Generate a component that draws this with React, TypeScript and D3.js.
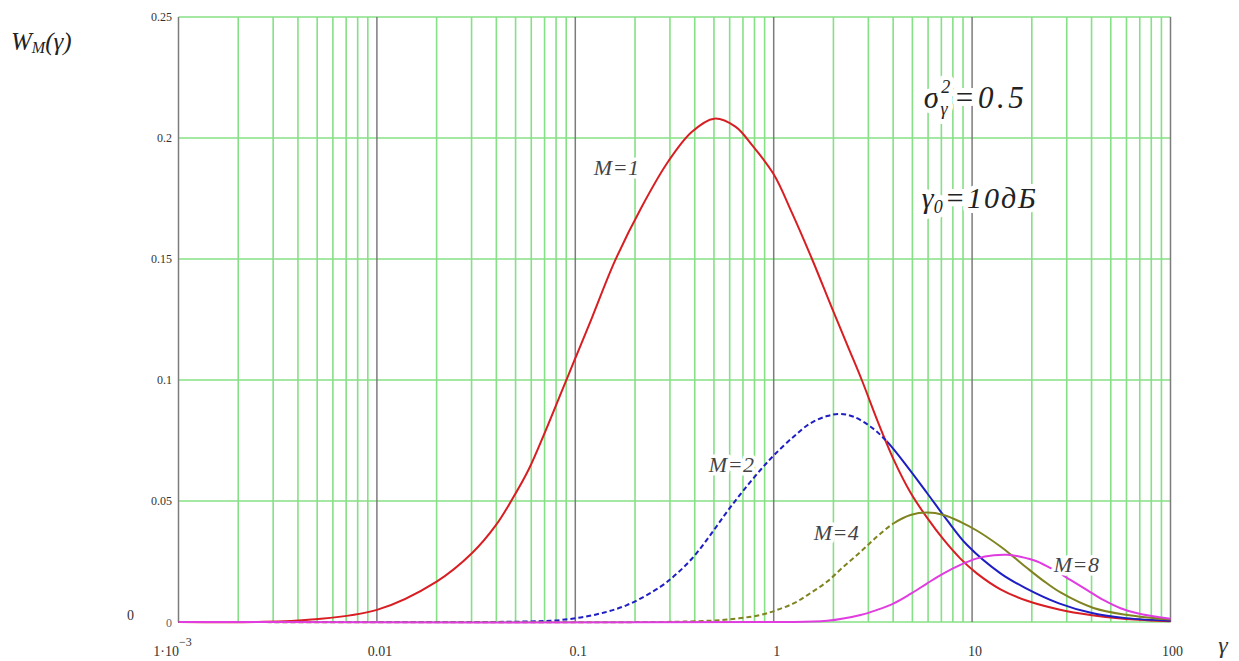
import React, { useEffect, useRef } from "react";
import * as d3 from "d3";

// values (gamma on a log axis, W_M(gamma))
const gammaM1 = [0.001, 0.00251, 0.00468, 0.01, 0.02, 0.0302, 0.0398, 0.0479, 0.0582, 0.0708, 0.0851, 0.1, 0.121, 0.158, 0.216, 0.295, 0.386, 0.501, 0.641, 0.776, 1, 1.23, 1.56, 1.96, 2.39, 2.78, 3.32, 4.03, 4.89, 5.94, 7.19, 8.73, 10.6, 13.9, 18.6, 27.4, 40.2, 59.7, 100];
const wM1 = [0, 0, 0.001, 0.005, 0.0167, 0.0285, 0.04, 0.0505, 0.063, 0.079, 0.095, 0.109, 0.1255, 0.149, 0.1715, 0.1905, 0.2025, 0.208, 0.2047, 0.1972, 0.185, 0.1695, 0.15, 0.13, 0.113, 0.1, 0.0835, 0.067, 0.0535, 0.043, 0.034, 0.0262, 0.02, 0.0135, 0.009, 0.0052, 0.0028, 0.0012, 0.0003];

const gammaM2 = [0.001, 0.0316, 0.0562, 0.0839, 0.124, 0.182, 0.269, 0.326, 0.395, 0.48, 0.582, 0.706, 0.857, 1, 1.26, 1.53, 1.86, 2.17, 2.53, 3.08, 3.73, 4.71, 5.94, 7.48, 9.44, 13.9, 18.6, 27.4, 40.2, 59.7, 100];
const wM2 = [0, 0, 0.0002, 0.0008, 0.0029, 0.007, 0.0146, 0.0201, 0.027, 0.036, 0.0456, 0.0545, 0.0628, 0.0688, 0.0766, 0.0821, 0.0851, 0.086, 0.0848, 0.0807, 0.0745, 0.0642, 0.0532, 0.0421, 0.0318, 0.0201, 0.014, 0.0077, 0.0037, 0.0016, 0.0005];

const gammaM4 = [0.001, 0.251, 0.398, 0.582, 0.857, 1.04, 1.26, 1.53, 1.86, 2.25, 2.74, 3.32, 4.03, 4.89, 5.94, 7.19, 8.73, 10.6, 13.9, 15.6, 19.0, 22.9, 27.9, 40.9, 60.8, 100];
const wM4 = [0, 0, 0.0003, 0.001, 0.0029, 0.005, 0.0077, 0.0119, 0.0167, 0.0229, 0.029, 0.0353, 0.0408, 0.0442, 0.0452, 0.0442, 0.0414, 0.0377, 0.0312, 0.028, 0.0222, 0.017, 0.0122, 0.0058, 0.0029, 0.001];

const gammaM8 = [0.001, 1, 1.86, 2.74, 3.32, 4.03, 4.89, 5.94, 7.19, 8.73, 10.6, 12.9, 15.0, 17.5, 21.3, 25.8, 31.3, 38.0, 46.1, 56.0, 68.1, 100];
const wM8 = [0, 0, 0.0005, 0.0029, 0.005, 0.0077, 0.0116, 0.016, 0.0201, 0.0236, 0.0263, 0.0276, 0.0278, 0.027, 0.025, 0.0215, 0.0174, 0.0132, 0.009, 0.0057, 0.0036, 0.0013];

const xTicks = [0.001, 0.01, 0.1, 1, 10, 100];
const xTickLabels = ["1·10", "0.01", "0.1", "1", "10", "100"];
const yTicks = [0.05, 0.1, 0.15, 0.2, 0.25];
const yTickLabels = ["0.05", "0.1", "0.15", "0.2", "0.25"];

const curveLabels = ["M=1", "M=2", "M=4", "M=8"];
const labelGamma = [0.124, 0.471, 1.59, 25.8];
const labelW = [0.1847, 0.062, 0.0339, 0.0207];

type Series = { id: string; g: number[]; w: number[]; color: string; dashUntil: number };

const series: Series[] = [
  { id: "m1", g: gammaM1, w: wM1, color: "#d81e22", dashUntil: 0 },
  { id: "m2", g: gammaM2, w: wM2, color: "#1e1ec4", dashUntil: 3.73 },
  { id: "m4", g: gammaM4, w: wM4, color: "#7f8420", dashUntil: 4.03 },
  { id: "m8", g: gammaM8, w: wM8, color: "#e03ce0", dashUntil: 0 },
];

const serif = "Liberation Serif, Times New Roman, DejaVu Serif, serif";

export default function App() {
  const svgRef = useRef<SVGSVGElement | null>(null);

  useEffect(() => {
    if (!svgRef.current) return;
    const width = 1239;
    const height = 661;
    const svg = d3.select(svgRef.current);
    svg.selectAll("*").remove();
    svg.attr("width", width).attr("height", height).style("font-family", serif);

    const x = d3.scaleLog().domain([0.001, 100]).range([178.5, 1170.5]);
    const y = d3.scaleLinear().domain([0, 0.25]).range([622, 17]);

    svg.append("rect").attr("width", width).attr("height", height).attr("fill", "#fff");
    const defs = svg.append("defs");

    const grid = svg.append("g");
    // minor vertical lines 2..9 per decade
    const minor: number[] = [];
    for (let e = -3; e < 2; e++) {
      for (let k = 2; k <= 9; k++) minor.push(k * Math.pow(10, e));
    }
    grid
      .selectAll("line.minor")
      .data(minor)
      .enter()
      .append("line")
      .attr("x1", (d) => x(d))
      .attr("x2", (d) => x(d))
      .attr("y1", y(0.25))
      .attr("y2", y(0))
      .attr("stroke", "#86e086")
      .attr("stroke-width", 1.6);

    grid
      .selectAll("line.h")
      .data([0, ...yTicks])
      .enter()
      .append("line")
      .attr("x1", x(0.001))
      .attr("x2", x(100))
      .attr("y1", (d) => y(d))
      .attr("y2", (d) => y(d))
      .attr("stroke", "#86e086")
      .attr("stroke-width", 1.6);

    grid
      .selectAll("line.major")
      .data(xTicks)
      .enter()
      .append("line")
      .attr("x1", (d) => x(d))
      .attr("x2", (d) => x(d))
      .attr("y1", y(0.25))
      .attr("y2", y(0))
      .attr("stroke", "#7c7c7c")
      .attr("stroke-width", 1.5);

    // curves
    const line = d3
      .line<[number, number]>()
      .x((d) => x(d[0]))
      .y((d) => Math.min(y(d[1]), y(0)))
      .curve(d3.curveCatmullRom.alpha(0.5));

    series.forEach((s) => {
      const pts: [number, number][] = s.g.map((g, i) => [g, s.w[i]]);
      if (s.dashUntil > 0) {
        // same path twice, clipped: dashed on the left part, solid on the right
        const xs = x(s.dashUntil);
        defs
          .append("clipPath")
          .attr("id", `${s.id}-a`)
          .append("rect")
          .attr("x", 0)
          .attr("y", 0)
          .attr("width", xs)
          .attr("height", height);
        defs
          .append("clipPath")
          .attr("id", `${s.id}-b`)
          .append("rect")
          .attr("x", xs)
          .attr("y", 0)
          .attr("width", width - xs)
          .attr("height", height);
        svg
          .append("path")
          .datum(pts)
          .attr("clip-path", `url(#${s.id}-a)`)
          .attr("fill", "none")
          .attr("stroke", s.color)
          .attr("stroke-width", 2)
          .attr("stroke-dasharray", "5,3")
          .attr("d", line);
        svg
          .append("path")
          .datum(pts)
          .attr("clip-path", `url(#${s.id}-b)`)
          .attr("fill", "none")
          .attr("stroke", s.color)
          .attr("stroke-width", 2)
          .attr("d", line);
      } else {
        svg
          .append("path")
          .datum(pts)
          .attr("fill", "none")
          .attr("stroke", s.color)
          .attr("stroke-width", 2)
          .attr("d", line);
      }
    });

    // tick labels
    svg
      .selectAll("text.ytick")
      .data(yTicks)
      .enter()
      .append("text")
      .attr("x", 172)
      .attr("y", (d) => y(d) + 4)
      .attr("text-anchor", "end")
      .attr("font-size", 12)
      .attr("fill", "#333")
      .text((_, i) => yTickLabels[i]);

    svg
      .append("text")
      .attr("x", 172)
      .attr("y", y(0) + 5)
      .attr("text-anchor", "end")
      .attr("font-size", 12)
      .attr("fill", "#666")
      .text("0");
    svg
      .append("text")
      .attr("x", 134)
      .attr("y", y(0) - 2)
      .attr("text-anchor", "end")
      .attr("font-size", 14)
      .attr("fill", "#333")
      .text("0");

    const xt = svg
      .selectAll("text.xtick")
      .data(xTicks)
      .enter()
      .append("text")
      .attr("x", (d) => x(d) + (d === 0.001 ? -6 : d === 100 ? 2 : 3))
      .attr("y", 656)
      .attr("text-anchor", "middle")
      .attr("font-size", 14)
      .attr("fill", "#333");
    xt.append("tspan").text((_, i) => xTickLabels[i]);
    xt.filter((d) => d === 0.001)
      .append("tspan")
      .attr("dy", -10)
      .attr("font-size", 12)
      .text("−3");

    svg
      .append("text")
      .attr("x", 1223)
      .attr("y", 653)
      .attr("text-anchor", "middle")
      .attr("font-style", "italic")
      .attr("font-size", 24)
      .attr("fill", "#333")
      .text("γ");

    // axis title
    const title = svg
      .append("text")
      .attr("x", 11)
      .attr("y", 50)
      .attr("font-style", "italic")
      .attr("font-size", 25)
      .attr("fill", "#222");
    title.append("tspan").text("W");
    title.append("tspan").attr("font-size", 16).attr("dy", 3).text("M");
    title.append("tspan").attr("dy", -3).text("(γ)");

    // curve labels
    svg
      .selectAll("text.clabel")
      .data(curveLabels)
      .enter()
      .append("text")
      .attr("x", (_, i) => x(labelGamma[i]))
      .attr("y", (_, i) => y(labelW[i]))
      .attr("font-style", "italic")
      .attr("font-size", 22)
      .attr("letter-spacing", 0.5)
      .attr("fill", "#444")
      .attr("stroke", "#fff")
      .attr("stroke-width", 7)
      .attr("stroke-linejoin", "round")
      .attr("paint-order", "stroke")
      .text((d) => d);

    // parameter annotations
    const sig = svg
      .append("text")
      .attr("x", x(5.71))
      .attr("y", y(0.2124))
      .attr("font-style", "italic")
      .attr("font-size", 31)
      .attr("letter-spacing", 3.5)
      .attr("fill", "#222")
      .attr("stroke", "#fff")
      .attr("stroke-width", 10)
      .attr("stroke-linejoin", "round")
      .attr("paint-order", "stroke");
    sig.append("tspan").text("σ");
    sig.append("tspan").attr("font-size", 18).attr("dy", 7).attr("dx", -2).text("γ");
    sig.append("tspan").attr("font-size", 18).attr("dy", -22).attr("dx", -10).text("2");
    sig.append("tspan").attr("dy", 15).text("=0.5");

    const g0 = svg
      .append("text")
      .attr("x", x(5.58))
      .attr("y", y(0.171))
      .attr("font-style", "italic")
      .attr("font-size", 30)
      .attr("letter-spacing", 2)
      .attr("fill", "#222")
      .attr("stroke", "#fff")
      .attr("stroke-width", 10)
      .attr("stroke-linejoin", "round")
      .attr("paint-order", "stroke");
    g0.append("tspan").text("γ");
    g0.append("tspan").attr("font-size", 18).attr("dy", 5).attr("dx", -2).text("0");
    g0.append("tspan").attr("dy", -5).text("=10дБ");
  }, []);

  return (
    <svg
      ref={svgRef}
      style={{ position: "absolute", left: 0, top: 0, display: "block" }}
    />
  );
}
